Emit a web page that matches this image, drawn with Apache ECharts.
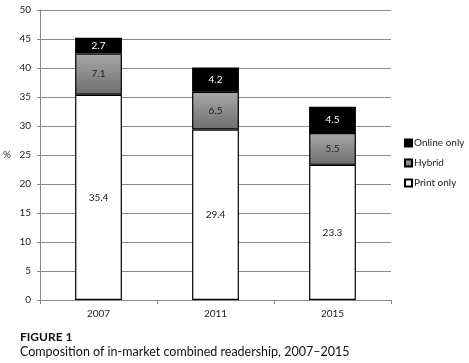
<!DOCTYPE html>
<html><head><meta charset="utf-8">
<script src="https://cdn.jsdelivr.net/npm/echarts@6/dist/echarts.min.js"></script>
<style>html,body{margin:0;padding:0;background:#fff}#c{width:469px;height:363px}</style>
</head><body><div id="c"></div>
<script>
var categories = ['2007', '2011', '2015'];
var printOnly = [35.4, 29.4, 23.3];
var hybrid = [7.1, 6.5, 5.5];
var onlineOnly = [2.7, 4.2, 4.5];
var yTicks = [0, 5, 10, 15, 20, 25, 30, 35, 40, 45, 50];

var FONT = 'Lato';
var chart = echarts.init(document.getElementById('c'));
var border = {borderColor: '#000', borderWidth: 1.2};
chart.setOption({
  animation: false,
  grid: {left: 32, right: 78, top: 10, bottom: 63},
  title: {
    text: 'FIGURE 1',
    subtext: 'Composition of in-market combined readership, 2007\u20132015',
    left: 20, top: 331, itemGap: 2, padding: 0,
    textStyle: {fontFamily: FONT, fontSize: 12, fontWeight: 'bold', color: '#111'},
    subtextStyle: {fontFamily: FONT, fontSize: 12.5, color: '#111'}
  },
  legend: {
    orient: 'vertical', left: 399, top: 133, itemGap: 10,
    itemWidth: 7, itemHeight: 7, icon: 'rect',
    data: ['Online only', 'Hybrid', 'Print only'],
    textStyle: {fontFamily: FONT, fontSize: 10, color: '#222', padding: [0, 0, 0, -3]}
  },
  xAxis: {
    type: 'category', data: categories,
    axisLine: {lineStyle: {color: '#888', width: 1}},
    axisTick: {show: true, length: 4, lineStyle: {color: '#888'}},
    axisLabel: {fontFamily: FONT, fontSize: 10, color: '#222', margin: 9}
  },
  yAxis: {
    type: 'value', min: yTicks[0], max: yTicks[yTicks.length - 1], interval: 5,
    name: '%', nameLocation: 'middle', nameRotate: 0, nameGap: 29,
    nameTextStyle: {fontFamily: FONT, fontSize: 10, color: '#222'},
    axisLine: {show: true, lineStyle: {color: '#888'}},
    axisTick: {show: true, length: 3, lineStyle: {color: '#888'}},
    axisLabel: {fontFamily: FONT, fontSize: 10, color: '#222', margin: 9},
    splitLine: {lineStyle: {color: '#8a8a8a', width: 1}}
  },
  series: [
    {name: 'Print only', type: 'bar', stack: 't', data: printOnly, barWidth: '40%',
     itemStyle: Object.assign({color: '#fff'}, border),
     label: {show: true, position: 'inside', fontFamily: FONT, fontSize: 10, color: '#222'}},
    {name: 'Hybrid', type: 'bar', stack: 't', data: hybrid,
     itemStyle: Object.assign({color: new echarts.graphic.LinearGradient(0, 0, 0, 1, [
       {offset: 0, color: '#a8a8a8'}, {offset: 1, color: '#6e6e6e'}])}, border),
     label: {show: true, position: 'inside', fontFamily: FONT, fontSize: 10, color: '#222'}},
    {name: 'Online only', type: 'bar', stack: 't', data: onlineOnly,
     itemStyle: Object.assign({color: '#000'}, border),
     label: {show: true, position: 'inside', fontFamily: FONT, fontSize: 10, color: '#fff'}}
  ]
});
</script></body></html>
